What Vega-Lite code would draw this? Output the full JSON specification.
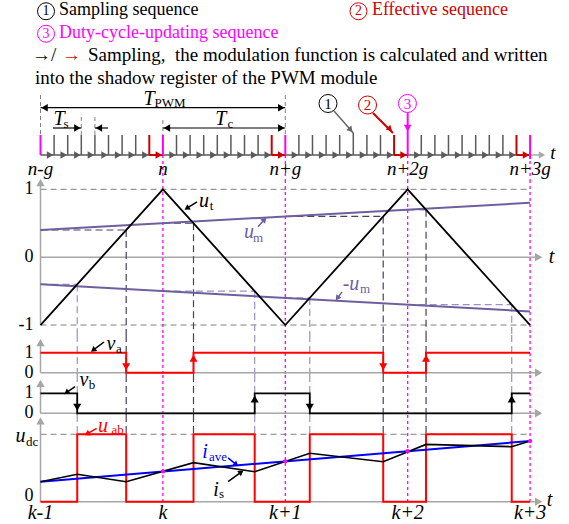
{
"$schema":"https://vega.github.io/schema/vega-lite/v6.json",
"padding":0,
"spacing":0,
"bounds":"flush",
"background":"#ffffff",
"config":{"view":{"stroke":null},"concat":{"spacing":0},"text":{"font":"'Liberation Serif', 'DejaVu Serif', serif"}},
"vconcat":[
{"width":569,"height":90,
"encoding":{"x":{"field":"t","type":"quantitative","scale":{"domain":[-0.331,4.318],"nice":false,"zero":false},"axis":null},"y":{"field":"y","type":"quantitative","scale":{"domain":[0.55,4.55],"reverse":true,"nice":false,"zero":false},"axis":null}},
"layer":[
{"data":{"values":[{"t":0.151,"y":1,"s":"Sampling sequence"}]},
 "mark":{"type":"text","font":"'Liberation Serif', 'DejaVu Serif', serif","fontSize":18,"align":"left","baseline":"middle","color":"#000000"},"encoding":{"text":{"field":"s"}}},
{"data":{"values":[{"t":-0.069,"y":3,"s":"→/"},{"t":0.388,"y":3,"s":"Sampling,\u00a0 the modulation function is calculated and written"},{"t":-0.045,"y":4.02,"s":"into the shadow register of the PWM module"}]},
 "mark":{"type":"text","font":"'Liberation Serif', 'DejaVu Serif', serif","fontSize":19,"align":"left","baseline":"middle","color":"#000000"},"encoding":{"text":{"field":"s"}}},
{"data":{"values":[{"t":2.708,"y":1,"s":"Effective sequence"}]},
 "mark":{"type":"text","font":"'Liberation Serif', 'DejaVu Serif', serif","fontSize":18,"align":"left","baseline":"middle","color":"#d00000"},"encoding":{"text":{"field":"s"}}},
{"data":{"values":[{"t":0.176,"y":3,"s":"→"}]},
 "mark":{"type":"text","font":"'Liberation Serif', 'DejaVu Serif', serif","fontSize":19,"align":"left","baseline":"middle","color":"#e00000"},"encoding":{"text":{"field":"s"}}},
{"data":{"values":[{"t":0.151,"y":2,"s":"Duty-cycle-updating sequence"}]},
 "mark":{"type":"text","font":"'Liberation Serif', 'DejaVu Serif', serif","fontSize":18,"align":"left","baseline":"middle","color":"#ff00ff"},"encoding":{"text":{"field":"s"}}},
{"data":{"values":[{"t":0.045,"y":1.05}]},
 "mark":{"type":"point","shape":"circle","filled":false,"size":289,"color":"#000000","strokeWidth":1,"opacity":1},"encoding":{}},
{"data":{"values":[{"t":2.598,"y":1.05}]},
 "mark":{"type":"point","shape":"circle","filled":false,"size":289,"color":"#d00000","strokeWidth":1,"opacity":1},"encoding":{}},
{"data":{"values":[{"t":0.045,"y":2.05}]},
 "mark":{"type":"point","shape":"circle","filled":false,"size":289,"color":"#ff00ff","strokeWidth":1,"opacity":1},"encoding":{}},
{"data":{"values":[{"t":0.045,"y":1.05,"s":"1"}]},
 "mark":{"type":"text","font":"'Liberation Serif', 'DejaVu Serif', serif","fontSize":14,"align":"center","baseline":"middle","color":"#000000"},"encoding":{"text":{"field":"s"}}},
{"data":{"values":[{"t":2.598,"y":1.05,"s":"2"}]},
 "mark":{"type":"text","font":"'Liberation Serif', 'DejaVu Serif', serif","fontSize":14,"align":"center","baseline":"middle","color":"#d00000"},"encoding":{"text":{"field":"s"}}},
{"data":{"values":[{"t":0.045,"y":2.05,"s":"3"}]},
 "mark":{"type":"text","font":"'Liberation Serif', 'DejaVu Serif', serif","fontSize":14,"align":"center","baseline":"middle","color":"#ff00ff"},"encoding":{"text":{"field":"s"}}}
]},
{"width":569,"height":90,
"encoding":{"x":{"field":"t","type":"quantitative","scale":{"domain":[-0.331,4.318],"nice":false,"zero":false},"axis":null},"y":{"field":"y","type":"quantitative","scale":{"domain":[-1.25,3.25],"nice":false,"zero":false},"axis":null}},
"layer":[
{"data":{"values":[{"t":1,"t2":1,"y":0,"y2":-1.25},{"t":2,"t2":2,"y":0,"y2":-1.25},{"t":3,"t2":3,"y":0,"y2":-1.25},{"t":4,"t2":4,"y":0,"y2":-1.25}]},
 "mark":{"type":"rule","color":"#ff00ff","strokeWidth":1.3,"strokeDash":[3,3]},"encoding":{"x2":{"field":"t2"},"y2":{"field":"y2"}}},
{"data":{"values":[{"t":0,"t2":0,"y":3.0,"y2":1},{"t":2,"t2":2,"y":3.0,"y2":1},{"t":1,"t2":1,"y":1.75,"y2":1},{"t":0.3333,"t2":0.3333,"y":1.9,"y2":1},{"t":0.4444,"t2":0.4444,"y":1.9,"y2":1}]},
 "mark":{"type":"rule","color":"#808080","strokeWidth":1,"strokeDash":[4,3]},"encoding":{"x2":{"field":"t2"},"y2":{"field":"y2"}}},
{"data":{"values":[{"t":0,"t2":4,"y":0,"y2":0},
 {"t":0.1111,"t2":0.1111,"y":0,"y2":1},{"t":0.2222,"t2":0.2222,"y":0,"y2":1},{"t":0.3333,"t2":0.3333,"y":0,"y2":1},{"t":0.4444,"t2":0.4444,"y":0,"y2":1},{"t":0.5556,"t2":0.5556,"y":0,"y2":1},{"t":0.6667,"t2":0.6667,"y":0,"y2":1},{"t":0.7778,"t2":0.7778,"y":0,"y2":1},
 {"t":1.1111,"t2":1.1111,"y":0,"y2":1},{"t":1.2222,"t2":1.2222,"y":0,"y2":1},{"t":1.3333,"t2":1.3333,"y":0,"y2":1},{"t":1.4444,"t2":1.4444,"y":0,"y2":1},{"t":1.5556,"t2":1.5556,"y":0,"y2":1},{"t":1.6667,"t2":1.6667,"y":0,"y2":1},{"t":1.7778,"t2":1.7778,"y":0,"y2":1},
 {"t":2.1111,"t2":2.1111,"y":0,"y2":1},{"t":2.2222,"t2":2.2222,"y":0,"y2":1},{"t":2.3333,"t2":2.3333,"y":0,"y2":1},{"t":2.4444,"t2":2.4444,"y":0,"y2":1},{"t":2.5556,"t2":2.5556,"y":0,"y2":1.1},{"t":2.6667,"t2":2.6667,"y":0,"y2":1},{"t":2.7778,"t2":2.7778,"y":0,"y2":1},
 {"t":3.1111,"t2":3.1111,"y":0,"y2":1},{"t":3.2222,"t2":3.2222,"y":0,"y2":1},{"t":3.3333,"t2":3.3333,"y":0,"y2":1},{"t":3.4444,"t2":3.4444,"y":0,"y2":1},{"t":3.5556,"t2":3.5556,"y":0,"y2":1},{"t":3.6667,"t2":3.6667,"y":0,"y2":1},{"t":3.7778,"t2":3.7778,"y":0,"y2":1}]},
 "mark":{"type":"rule","color":"#5a5a5a","strokeWidth":1.5},"encoding":{"x2":{"field":"t2"},"y2":{"field":"y2"}}},
{"data":{"values":[{"t":4,"t2":4.1,"y":0,"y2":0}]},
 "mark":{"type":"rule","color":"#aaaaaa","strokeWidth":1.5},"encoding":{"x2":{"field":"t2"},"y2":{"field":"y2"}}},
{"data":{"values":[{"t":0.1111,"y":0},{"t":0.2222,"y":0},{"t":0.3333,"y":0},{"t":0.4444,"y":0},{"t":0.5556,"y":0},{"t":0.6667,"y":0},{"t":0.7778,"y":0},{"t":0.8889,"y":0},
 {"t":1.1111,"y":0},{"t":1.2222,"y":0},{"t":1.3333,"y":0},{"t":1.4444,"y":0},{"t":1.5556,"y":0},{"t":1.6667,"y":0},{"t":1.7778,"y":0},{"t":1.8889,"y":0},
 {"t":2.1111,"y":0},{"t":2.2222,"y":0},{"t":2.3333,"y":0},{"t":2.4444,"y":0},{"t":2.5556,"y":0},{"t":2.6667,"y":0},{"t":2.7778,"y":0},{"t":2.8889,"y":0},
 {"t":3.1111,"y":0},{"t":3.2222,"y":0},{"t":3.3333,"y":0},{"t":3.4444,"y":0},{"t":3.5556,"y":0},{"t":3.6667,"y":0},{"t":3.7778,"y":0},{"t":3.8889,"y":0}]},
 "mark":{"type":"point","shape":"triangle-right","filled":true,"size":55,"color":"#5a5a5a","opacity":1,"xOffset":-4},"encoding":{}},
{"data":{"values":[{"t":4.13,"y":0}]},
 "mark":{"type":"point","shape":"triangle-right","filled":true,"size":55,"color":"#aaaaaa","opacity":1,"xOffset":-4},"encoding":{}},
{"data":{"values":[{"t":0.8889,"t2":0.8889,"y":1,"y2":0},{"t":0.8889,"t2":1,"y":0,"y2":0},{"t":1.8889,"t2":1.8889,"y":1,"y2":0},{"t":1.8889,"t2":2,"y":0,"y2":0},{"t":2.8889,"t2":2.8889,"y":1,"y2":0},{"t":2.8889,"t2":3,"y":0,"y2":0},{"t":3.8889,"t2":3.8889,"y":1,"y2":0},{"t":3.8889,"t2":4,"y":0,"y2":0},{"t":2.716,"t2":2.88,"y":2.1,"y2":1.1}]},
 "mark":{"type":"rule","color":"#cc0000","strokeWidth":2},"encoding":{"x2":{"field":"t2"},"y2":{"field":"y2"}}},
{"data":{"values":[{"t":1,"y":0},{"t":2,"y":0},{"t":3,"y":0},{"t":4,"y":0}]},
 "mark":{"type":"point","shape":"triangle-right","filled":true,"size":60,"color":"#cc0000","opacity":1,"xOffset":-4},"encoding":{}},
{"data":{"values":[{"t":2.856,"y":1.29}]},
 "mark":{"type":"point","shape":"triangle-up","filled":true,"size":45,"color":"#cc0000","opacity":1,"angle":134},"encoding":{}},
{"data":{"values":[{"t":0,"t2":0,"y":1,"y2":0},{"t":1,"t2":1,"y":1,"y2":0},{"t":2,"t2":2,"y":1,"y2":0},{"t":4,"t2":4,"y":1,"y2":-0.2},{"t":3,"t2":3,"y":2.12,"y2":0}]},
 "mark":{"type":"rule","color":"#ff00ff","strokeWidth":2},"encoding":{"x2":{"field":"t2"},"y2":{"field":"y2"}}},
{"data":{"values":[{"t":3,"y":1.35}]},
 "mark":{"type":"point","shape":"triangle-down","filled":true,"size":60,"color":"#ff00ff","opacity":1},"encoding":{}},
{"data":{"values":[{"t":0,"t2":2,"y":2.365,"y2":2.365},{"t":1,"t2":2,"y":1.35,"y2":1.35},{"t":0.102,"t2":0.3333,"y":1.35,"y2":1.35},{"t":0.4444,"t2":0.551,"y":1.35,"y2":1.35}]},
 "mark":{"type":"rule","color":"#000000","strokeWidth":1.2},"encoding":{"x2":{"field":"t2"},"y2":{"field":"y2"}}},
{"data":{"values":[{"t":2,"y":2.365},{"t":2,"y":1.35},{"t":0.3333,"y":1.35}]},
 "mark":{"type":"point","shape":"triangle-right","filled":true,"size":55,"color":"#000000","opacity":1,"xOffset":-4},"encoding":{}},
{"data":{"values":[{"t":0,"y":2.365},{"t":1,"y":1.35},{"t":0.4444,"y":1.35}]},
 "mark":{"type":"point","shape":"triangle-left","filled":true,"size":55,"color":"#000000","opacity":1,"xOffset":4},"encoding":{}},
{"data":{"values":[{"t":2.398,"t2":2.556,"y":2.2,"y2":1.1}]},
 "mark":{"type":"rule","color":"#666666","strokeWidth":1.5},"encoding":{"x2":{"field":"t2"},"y2":{"field":"y2"}}},
{"data":{"values":[{"t":2.534,"y":1.25}]},
 "mark":{"type":"point","shape":"triangle-up","filled":true,"size":45,"color":"#666666","opacity":1,"angle":140},"encoding":{}},
{"data":{"values":[{"t":2.349,"y":2.575}]},
 "mark":{"type":"point","shape":"circle","filled":false,"size":324,"color":"#000000","strokeWidth":1,"opacity":1},"encoding":{}},
{"data":{"values":[{"t":2.672,"y":2.5}]},
 "mark":{"type":"point","shape":"circle","filled":false,"size":324,"color":"#cc0000","strokeWidth":1,"opacity":1},"encoding":{}},
{"data":{"values":[{"t":2.998,"y":2.575}]},
 "mark":{"type":"point","shape":"circle","filled":false,"size":324,"color":"#ff00ff","strokeWidth":1,"opacity":1},"encoding":{}},
{"data":{"values":[{"t":2.349,"y":2.575,"s":"1"}]},
 "mark":{"type":"text","font":"'Liberation Serif', 'DejaVu Serif', serif","fontSize":15,"align":"center","baseline":"middle","color":"#000000"},"encoding":{"text":{"field":"s"}}},
{"data":{"values":[{"t":2.672,"y":2.5,"s":"2"}]},
 "mark":{"type":"text","font":"'Liberation Serif', 'DejaVu Serif', serif","fontSize":15,"align":"center","baseline":"middle","color":"#cc0000"},"encoding":{"text":{"field":"s"}}},
{"data":{"values":[{"t":2.998,"y":2.575,"s":"3"}]},
 "mark":{"type":"text","font":"'Liberation Serif', 'DejaVu Serif', serif","fontSize":15,"align":"center","baseline":"middle","color":"#ff00ff"},"encoding":{"text":{"field":"s"}}},
{"data":{"values":[{"t":0,"y":-0.7,"s":"n-g"},{"t":1,"y":-0.7,"s":"n"},{"t":2,"y":-0.7,"s":"n+g"},{"t":3,"y":-0.7,"s":"n+2g"},{"t":4,"y":-0.7,"s":"n+3g"},{"t":4.187,"y":0.1,"s":"t"}]},
 "mark":{"type":"text","font":"'Liberation Serif', 'DejaVu Serif', serif","fontSize":19,"fontStyle":"italic","align":"center","baseline":"middle","color":"#000000"},"encoding":{"text":{"field":"s"}}},
{"data":{"values":[{"t":0.886,"y":2.825,"s":"T"},{"t":0.151,"y":1.8,"s":"T"},{"t":1.474,"y":1.8,"s":"T"}]},
 "mark":{"type":"text","font":"'Liberation Serif', 'DejaVu Serif', serif","fontSize":20,"fontStyle":"italic","align":"center","baseline":"middle","color":"#000000"},"encoding":{"text":{"field":"s"}}},
{"data":{"values":[{"t":1.058,"y":2.625,"s":"PWM"},{"t":0.208,"y":1.575,"s":"s"},{"t":1.552,"y":1.575,"s":"c"}]},
 "mark":{"type":"text","font":"'Liberation Serif', 'DejaVu Serif', serif","fontSize":13,"align":"center","baseline":"middle","color":"#000000"},"encoding":{"text":{"field":"s"}}}
]},
{"width":569,"height":155,
"encoding":{"x":{"field":"t","type":"quantitative","scale":{"domain":[-0.331,4.318],"nice":false,"zero":false},"axis":null},"y":{"field":"y","type":"quantitative","scale":{"domain":[-1.147,1.137],"nice":false,"zero":false},"axis":null}},
"layer":[
{"data":{"values":[{"t":1,"t2":1,"y":1.137,"y2":-1.147},{"t":2,"t2":2,"y":1.137,"y2":-1.147},{"t":3,"t2":3,"y":1.137,"y2":-1.147},{"t":4,"t2":4,"y":1.137,"y2":-1.147}]},
 "mark":{"type":"rule","color":"#ff00ff","strokeWidth":1.3,"strokeDash":[3,3]},"encoding":{"x2":{"field":"t2"},"y2":{"field":"y2"}}},
{"data":{"values":[{"t":0,"t2":4,"y":1,"y2":1},{"t":0,"t2":4,"y":-1,"y2":-1}]},
 "mark":{"type":"rule","color":"#808080","strokeWidth":1,"strokeDash":[6,4]},"encoding":{"x2":{"field":"t2"},"y2":{"field":"y2"}}},
{"data":{"values":[{"t":0,"t2":0,"y":-1,"y2":1.08},{"t":0,"t2":4.05,"y":0,"y2":0}]},
 "mark":{"type":"rule","color":"#a6a6a6","strokeWidth":1.5},"encoding":{"x2":{"field":"t2"},"y2":{"field":"y2"}}},
{"data":{"values":[{"t":0,"y":1.1}]},
 "mark":{"type":"point","shape":"triangle-up","filled":true,"size":70,"color":"#a6a6a6","opacity":1},"encoding":{}},
{"data":{"values":[{"t":4.07,"y":0}]},
 "mark":{"type":"point","shape":"triangle-right","filled":true,"size":70,"color":"#a6a6a6","opacity":1},"encoding":{}},
{"data":{"values":[{"t":0.7,"t2":0.7,"y":0.4,"y2":-1.147},{"t":1.25,"t2":1.25,"y":0.5,"y2":-1.147},{"t":2.8,"t2":2.8,"y":0.6,"y2":-1.147},{"t":3.15,"t2":3.15,"y":0.7,"y2":-1.147},{"t":0,"t2":0.7,"y":0.4,"y2":0.4},{"t":1,"t2":1.25,"y":0.5,"y2":0.5},{"t":2,"t2":2.8,"y":0.6,"y2":0.6},{"t":3,"t2":3.15,"y":0.7,"y2":0.7}]},
 "mark":{"type":"rule","color":"#4a4062","strokeWidth":1.2,"strokeDash":[7,4]},"encoding":{"x2":{"field":"t2"},"y2":{"field":"y2"}}},
{"data":{"values":[{"t":0.3,"t2":0.3,"y":-0.4,"y2":-1.147},{"t":1.75,"t2":1.75,"y":-0.5,"y2":-1.147},{"t":2.2,"t2":2.2,"y":-0.6,"y2":-1.147},{"t":3.85,"t2":3.85,"y":-0.7,"y2":-1.147},{"t":0,"t2":0.3,"y":-0.4,"y2":-0.4},{"t":1,"t2":1.75,"y":-0.5,"y2":-0.5},{"t":2,"t2":2.2,"y":-0.6,"y2":-0.6},{"t":3,"t2":3.85,"y":-0.7,"y2":-0.7}]},
 "mark":{"type":"rule","color":"#9d90c4","strokeWidth":1.2,"strokeDash":[7,4]},"encoding":{"x2":{"field":"t2"},"y2":{"field":"y2"}}},
{"data":{"values":[{"t":0,"t2":4,"y":0.4,"y2":0.8},{"t":0,"t2":4,"y":-0.4,"y2":-0.8}]},
 "mark":{"type":"rule","color":"#6e5f9e","strokeWidth":2},"encoding":{"x2":{"field":"t2"},"y2":{"field":"y2"}}},
{"data":{"values":[{"t":0,"y":-1},{"t":1,"y":1},{"t":2,"y":-1},{"t":3,"y":1},{"t":4,"y":-1}]},
 "mark":{"type":"line","color":"#000000","strokeWidth":1.8},"encoding":{}},
{"data":{"values":[{"t":-0.057,"y":1,"s":"1"},{"t":-0.057,"y":0,"s":"0"},{"t":-0.057,"y":-1,"s":"-1"}]},
 "mark":{"type":"text","font":"'Liberation Serif', 'DejaVu Serif', serif","fontSize":18,"align":"right","baseline":"middle","color":"#000000"},"encoding":{"text":{"field":"s"}}},
{"data":{"values":[{"t":1.336,"y":0.83,"s":"u"},{"t":4.175,"y":0,"s":"t"}]},
 "mark":{"type":"text","font":"'Liberation Serif', 'DejaVu Serif', serif","fontSize":20,"fontStyle":"italic","align":"center","baseline":"middle","color":"#000000"},"encoding":{"text":{"field":"s"}}},
{"data":{"values":[{"t":1.397,"y":0.756,"s":"t"}]},
 "mark":{"type":"text","font":"'Liberation Serif', 'DejaVu Serif', serif","fontSize":13,"align":"center","baseline":"middle","color":"#000000"},"encoding":{"text":{"field":"s"}}},
{"data":{"values":[{"t":1.703,"y":0.373,"s":"u"},{"t":2.537,"y":-0.394,"s":"-u"}]},
 "mark":{"type":"text","font":"'Liberation Serif', 'DejaVu Serif', serif","fontSize":20,"fontStyle":"italic","align":"center","baseline":"middle","color":"#6e5f9e"},"encoding":{"text":{"field":"s"}}},
{"data":{"values":[{"t":1.777,"y":0.285,"s":"m"},{"t":2.651,"y":-0.467,"s":"m"}]},
 "mark":{"type":"text","font":"'Liberation Serif', 'DejaVu Serif', serif","fontSize":13,"align":"center","baseline":"middle","color":"#6e5f9e"},"encoding":{"text":{"field":"s"}}},
{"data":{"values":[{"t":1.279,"t2":1.2,"y":0.815,"y2":0.725}]},
 "mark":{"type":"rule","color":"#000000","strokeWidth":1.5},"encoding":{"x2":{"field":"t2"},"y2":{"field":"y2"}}},
{"data":{"values":[{"t":1.195,"y":0.72}]},
 "mark":{"type":"point","shape":"triangle-up","filled":true,"size":40,"color":"#000000","opacity":1,"angle":237},"encoding":{}},
{"data":{"values":[{"t":1.777,"t2":1.83,"y":0.447,"y2":0.555},{"t":2.463,"t2":2.425,"y":-0.511,"y2":-0.605}]},
 "mark":{"type":"rule","color":"#6e5f9e","strokeWidth":1.5},"encoding":{"x2":{"field":"t2"},"y2":{"field":"y2"}}},
{"data":{"values":[{"t":1.83,"y":0.555}]},
 "mark":{"type":"point","shape":"triangle-up","filled":true,"size":40,"color":"#6e5f9e","opacity":1,"angle":41},"encoding":{}},
{"data":{"values":[{"t":2.425,"y":-0.605}]},
 "mark":{"type":"point","shape":"triangle-up","filled":true,"size":40,"color":"#6e5f9e","opacity":1,"angle":215},"encoding":{}}
]},
{"width":569,"height":40,
"encoding":{"x":{"field":"t","type":"quantitative","scale":{"domain":[-0.331,4.318],"nice":false,"zero":false},"axis":null},"y":{"field":"y","type":"quantitative","scale":{"domain":[-0.115,1.885],"nice":false,"zero":false},"axis":null}},
"layer":[
{"data":{"values":[{"t":1,"t2":1,"y":1.885,"y2":-0.115},{"t":2,"t2":2,"y":1.885,"y2":-0.115},{"t":3,"t2":3,"y":1.885,"y2":-0.115},{"t":4,"t2":4,"y":1.885,"y2":-0.115}]},
 "mark":{"type":"rule","color":"#ff00ff","strokeWidth":1.3,"strokeDash":[3,3]},"encoding":{"x2":{"field":"t2"},"y2":{"field":"y2"}}},
{"data":{"values":[{"t":0.7,"t2":0.7,"y":1.885,"y2":-0.115},{"t":1.25,"t2":1.25,"y":1.885,"y2":-0.115},{"t":2.8,"t2":2.8,"y":1.885,"y2":-0.115},{"t":3.15,"t2":3.15,"y":1.885,"y2":-0.115}]},
 "mark":{"type":"rule","color":"#4a4062","strokeWidth":1.2,"strokeDash":[7,4]},"encoding":{"x2":{"field":"t2"},"y2":{"field":"y2"}}},
{"data":{"values":[{"t":0.3,"t2":0.3,"y":1.885,"y2":-0.115},{"t":1.75,"t2":1.75,"y":1.885,"y2":-0.115},{"t":2.2,"t2":2.2,"y":1.885,"y2":-0.115},{"t":3.85,"t2":3.85,"y":1.885,"y2":-0.115}]},
 "mark":{"type":"rule","color":"#9d90c4","strokeWidth":1.2,"strokeDash":[7,4]},"encoding":{"x2":{"field":"t2"},"y2":{"field":"y2"}}},
{"data":{"values":[{"t":0,"t2":0,"y":0,"y2":1.45},{"t":0,"t2":4.05,"y":0,"y2":0}]},
 "mark":{"type":"rule","color":"#a6a6a6","strokeWidth":1.5},"encoding":{"x2":{"field":"t2"},"y2":{"field":"y2"}}},
{"data":{"values":[{"t":0,"y":1.5}]},
 "mark":{"type":"point","shape":"triangle-up","filled":true,"size":70,"color":"#a6a6a6","opacity":1},"encoding":{}},
{"data":{"values":[{"t":4.07,"y":0}]},
 "mark":{"type":"point","shape":"triangle-right","filled":true,"size":70,"color":"#a6a6a6","opacity":1},"encoding":{}},
{"data":{"values":[{"t":0,"y":1},{"t":0.7,"y":0},{"t":1.25,"y":1},{"t":2.8,"y":0},{"t":3.15,"y":1},{"t":4,"y":1}]},
 "mark":{"type":"line","interpolate":"step-after","color":"#ff0000","strokeWidth":2},"encoding":{}},
{"data":{"values":[{"t":0.7,"y":0.3},{"t":2.8,"y":0.3}]},
 "mark":{"type":"point","shape":"triangle-down","filled":true,"size":65,"color":"#ff0000","opacity":1},"encoding":{}},
{"data":{"values":[{"t":1.25,"y":0.72},{"t":3.15,"y":0.72}]},
 "mark":{"type":"point","shape":"triangle-up","filled":true,"size":65,"color":"#ff0000","opacity":1},"encoding":{}},
{"data":{"values":[{"t":-0.057,"y":1,"s":"1"},{"t":-0.057,"y":0,"s":"0"}]},
 "mark":{"type":"text","font":"'Liberation Serif', 'DejaVu Serif', serif","fontSize":18,"align":"right","baseline":"middle","color":"#000000"},"encoding":{"text":{"field":"s"}}},
{"data":{"values":[{"t":0.576,"y":1.45,"s":"v"}]},
 "mark":{"type":"text","font":"'Liberation Serif', 'DejaVu Serif', serif","fontSize":20,"fontStyle":"italic","align":"center","baseline":"middle","color":"#000000"},"encoding":{"text":{"field":"s"}}},
{"data":{"values":[{"t":0.64,"y":1.2,"s":"a"}]},
 "mark":{"type":"text","font":"'Liberation Serif', 'DejaVu Serif', serif","fontSize":13,"align":"center","baseline":"middle","color":"#000000"},"encoding":{"text":{"field":"s"}}},
{"data":{"values":[{"t":0.519,"t2":0.43,"y":1.535,"y2":1.13}]},
 "mark":{"type":"rule","color":"#000000","strokeWidth":1.5},"encoding":{"x2":{"field":"t2"},"y2":{"field":"y2"}}},
{"data":{"values":[{"t":0.43,"y":1.13}]},
 "mark":{"type":"point","shape":"triangle-up","filled":true,"size":40,"color":"#000000","opacity":1,"angle":233},"encoding":{}}
]},
{"width":569,"height":40,
"encoding":{"x":{"field":"t","type":"quantitative","scale":{"domain":[-0.331,4.318],"nice":false,"zero":false},"axis":null},"y":{"field":"y","type":"quantitative","scale":{"domain":[-0.085,1.915],"nice":false,"zero":false},"axis":null}},
"layer":[
{"data":{"values":[{"t":1,"t2":1,"y":1.915,"y2":-0.085},{"t":2,"t2":2,"y":1.915,"y2":-0.085},{"t":3,"t2":3,"y":1.915,"y2":-0.085},{"t":4,"t2":4,"y":1.915,"y2":-0.085}]},
 "mark":{"type":"rule","color":"#ff00ff","strokeWidth":1.3,"strokeDash":[3,3]},"encoding":{"x2":{"field":"t2"},"y2":{"field":"y2"}}},
{"data":{"values":[{"t":0.7,"t2":0.7,"y":1.915,"y2":-0.085},{"t":1.25,"t2":1.25,"y":1.915,"y2":-0.085},{"t":2.8,"t2":2.8,"y":1.915,"y2":-0.085},{"t":3.15,"t2":3.15,"y":1.915,"y2":-0.085}]},
 "mark":{"type":"rule","color":"#4a4062","strokeWidth":1.2,"strokeDash":[7,4]},"encoding":{"x2":{"field":"t2"},"y2":{"field":"y2"}}},
{"data":{"values":[{"t":0.3,"t2":0.3,"y":1.915,"y2":-0.085},{"t":1.75,"t2":1.75,"y":1.915,"y2":-0.085},{"t":2.2,"t2":2.2,"y":1.915,"y2":-0.085},{"t":3.85,"t2":3.85,"y":1.915,"y2":-0.085}]},
 "mark":{"type":"rule","color":"#9d90c4","strokeWidth":1.2,"strokeDash":[7,4]},"encoding":{"x2":{"field":"t2"},"y2":{"field":"y2"}}},
{"data":{"values":[{"t":0,"t2":0,"y":0,"y2":1.45},{"t":0,"t2":4.05,"y":0,"y2":0}]},
 "mark":{"type":"rule","color":"#a6a6a6","strokeWidth":1.5},"encoding":{"x2":{"field":"t2"},"y2":{"field":"y2"}}},
{"data":{"values":[{"t":0,"y":1.5}]},
 "mark":{"type":"point","shape":"triangle-up","filled":true,"size":70,"color":"#a6a6a6","opacity":1},"encoding":{}},
{"data":{"values":[{"t":4.07,"y":0}]},
 "mark":{"type":"point","shape":"triangle-right","filled":true,"size":70,"color":"#a6a6a6","opacity":1},"encoding":{}},
{"data":{"values":[{"t":0,"y":1},{"t":0.3,"y":0},{"t":1.75,"y":1},{"t":2.2,"y":0},{"t":3.85,"y":1},{"t":4,"y":1}]},
 "mark":{"type":"line","interpolate":"step-after","color":"#000000","strokeWidth":1.8},"encoding":{}},
{"data":{"values":[{"t":0.3,"y":0.3},{"t":2.2,"y":0.3}]},
 "mark":{"type":"point","shape":"triangle-down","filled":true,"size":65,"color":"#000000","opacity":1},"encoding":{}},
{"data":{"values":[{"t":1.75,"y":0.72},{"t":3.85,"y":0.72}]},
 "mark":{"type":"point","shape":"triangle-up","filled":true,"size":65,"color":"#000000","opacity":1},"encoding":{}},
{"data":{"values":[{"t":-0.057,"y":1,"s":"1"},{"t":-0.057,"y":0,"s":"0"}]},
 "mark":{"type":"text","font":"'Liberation Serif', 'DejaVu Serif', serif","fontSize":18,"align":"right","baseline":"middle","color":"#000000"},"encoding":{"text":{"field":"s"}}},
{"data":{"values":[{"t":0.355,"y":1.665,"s":"v"}]},
 "mark":{"type":"text","font":"'Liberation Serif', 'DejaVu Serif', serif","fontSize":20,"fontStyle":"italic","align":"center","baseline":"middle","color":"#000000"},"encoding":{"text":{"field":"s"}}},
{"data":{"values":[{"t":0.42,"y":1.42,"s":"b"}]},
 "mark":{"type":"text","font":"'Liberation Serif', 'DejaVu Serif', serif","fontSize":13,"align":"center","baseline":"middle","color":"#000000"},"encoding":{"text":{"field":"s"}}},
{"data":{"values":[{"t":0.282,"t2":0.212,"y":1.33,"y2":1.03}]},
 "mark":{"type":"rule","color":"#000000","strokeWidth":1.5},"encoding":{"x2":{"field":"t2"},"y2":{"field":"y2"}}},
{"data":{"values":[{"t":0.212,"y":1.03}]},
 "mark":{"type":"point","shape":"triangle-up","filled":true,"size":40,"color":"#000000","opacity":1,"angle":233},"encoding":{}}
]},
{"width":569,"height":109,
"encoding":{"x":{"field":"t","type":"quantitative","scale":{"domain":[-0.331,4.318],"nice":false,"zero":false},"axis":null},"y":{"field":"y","type":"quantitative","scale":{"domain":[-0.331,1.286],"nice":false,"zero":false},"axis":null}},
"layer":[
{"data":{"values":[{"t":1,"t2":1,"y":1.286,"y2":0},{"t":2,"t2":2,"y":1.286,"y2":0},{"t":3,"t2":3,"y":1.286,"y2":0},{"t":4,"t2":4,"y":1.286,"y2":0}]},
 "mark":{"type":"rule","color":"#ff00ff","strokeWidth":1.3,"strokeDash":[3,3]},"encoding":{"x2":{"field":"t2"},"y2":{"field":"y2"}}},
{"data":{"values":[{"t":0.7,"t2":0.7,"y":1.286,"y2":1},{"t":1.25,"t2":1.25,"y":1.286,"y2":1},{"t":2.8,"t2":2.8,"y":1.286,"y2":1},{"t":3.15,"t2":3.15,"y":1.286,"y2":1}]},
 "mark":{"type":"rule","color":"#4a4062","strokeWidth":1.2,"strokeDash":[7,4]},"encoding":{"x2":{"field":"t2"},"y2":{"field":"y2"}}},
{"data":{"values":[{"t":0.3,"t2":0.3,"y":1.286,"y2":1},{"t":1.75,"t2":1.75,"y":1.286,"y2":1},{"t":2.2,"t2":2.2,"y":1.286,"y2":1},{"t":3.85,"t2":3.85,"y":1.286,"y2":1}]},
 "mark":{"type":"rule","color":"#9d90c4","strokeWidth":1.2,"strokeDash":[7,4]},"encoding":{"x2":{"field":"t2"},"y2":{"field":"y2"}}},
{"data":{"values":[{"t":0,"t2":4,"y":1,"y2":1}]},
 "mark":{"type":"rule","color":"#808080","strokeWidth":1,"strokeDash":[6,4]},"encoding":{"x2":{"field":"t2"},"y2":{"field":"y2"}}},
{"data":{"values":[{"t":0,"t2":0,"y":0,"y2":1.17},{"t":0,"t2":4.05,"y":0,"y2":0}]},
 "mark":{"type":"rule","color":"#a6a6a6","strokeWidth":1.5},"encoding":{"x2":{"field":"t2"},"y2":{"field":"y2"}}},
{"data":{"values":[{"t":0,"y":1.2}]},
 "mark":{"type":"point","shape":"triangle-up","filled":true,"size":70,"color":"#a6a6a6","opacity":1},"encoding":{}},
{"data":{"values":[{"t":4.07,"y":0}]},
 "mark":{"type":"point","shape":"triangle-right","filled":true,"size":70,"color":"#a6a6a6","opacity":1},"encoding":{}},
{"data":{"values":[{"t":0,"y":0},{"t":0.3,"y":1},{"t":0.7,"y":0},{"t":1.25,"y":1},{"t":1.75,"y":0},{"t":2.2,"y":1},{"t":2.8,"y":0},{"t":3.15,"y":1},{"t":3.85,"y":0},{"t":4,"y":0}]},
 "mark":{"type":"line","interpolate":"step-after","color":"#ff0000","strokeWidth":2},"encoding":{}},
{"data":{"values":[{"t":0,"t2":4,"y":0.297,"y2":0.9}]},
 "mark":{"type":"rule","color":"#0000ff","strokeWidth":2},"encoding":{"x2":{"field":"t2"},"y2":{"field":"y2"}}},
{"data":{"values":[{"t":0,"y":0.297},{"t":0.3,"y":0.406},{"t":0.7,"y":0.297},{"t":1.25,"y":0.579},{"t":1.75,"y":0.445},{"t":2.2,"y":0.718},{"t":2.8,"y":0.593},{"t":3.15,"y":0.85},{"t":3.85,"y":0.816},{"t":4,"y":0.9}]},
 "mark":{"type":"line","color":"#000000","strokeWidth":1.6},"encoding":{}},
{"data":{"values":[{"t":1,"y":0.448},{"t":2,"y":0.599},{"t":3,"y":0.749},{"t":4,"y":0.9}]},
 "mark":{"type":"point","shape":"circle","filled":true,"size":18,"color":"#ff00ff","opacity":1},"encoding":{}},
{"data":{"values":[{"t":-0.057,"y":0.09,"s":"0"}]},
 "mark":{"type":"text","font":"'Liberation Serif', 'DejaVu Serif', serif","fontSize":18,"align":"right","baseline":"middle","color":"#000000"},"encoding":{"text":{"field":"s"}}},
{"data":{"values":[{"t":-0.163,"y":0.98,"s":"u"},{"t":1.434,"y":0.174,"s":"i"},{"t":0,"y":-0.175,"s":"k-1"},{"t":1,"y":-0.175,"s":"k"},{"t":2,"y":-0.175,"s":"k+1"},{"t":3,"y":-0.175,"s":"k+2"},{"t":4,"y":-0.175,"s":"k+3"},{"t":4.158,"y":0.03,"s":"t"}]},
 "mark":{"type":"text","font":"'Liberation Serif', 'DejaVu Serif', serif","fontSize":20,"fontStyle":"italic","align":"center","baseline":"middle","color":"#000000"},"encoding":{"text":{"field":"s"}}},
{"data":{"values":[{"t":-0.069,"y":0.89,"s":"dc"},{"t":1.478,"y":0.11,"s":"s"}]},
 "mark":{"type":"text","font":"'Liberation Serif', 'DejaVu Serif', serif","fontSize":13,"align":"center","baseline":"middle","color":"#000000"},"encoding":{"text":{"field":"s"}}},
{"data":{"values":[{"t":0.511,"y":1.13,"s":"u"}]},
 "mark":{"type":"text","font":"'Liberation Serif', 'DejaVu Serif', serif","fontSize":20,"fontStyle":"italic","align":"center","baseline":"middle","color":"#ff0000"},"encoding":{"text":{"field":"s"}}},
{"data":{"values":[{"t":0.63,"y":1.07,"s":"ab"}]},
 "mark":{"type":"text","font":"'Liberation Serif', 'DejaVu Serif', serif","fontSize":13,"align":"center","baseline":"middle","color":"#ff0000"},"encoding":{"text":{"field":"s"}}},
{"data":{"values":[{"t":1.344,"y":0.737,"s":"i"}]},
 "mark":{"type":"text","font":"'Liberation Serif', 'DejaVu Serif', serif","fontSize":20,"fontStyle":"italic","align":"center","baseline":"middle","color":"#0000ff"},"encoding":{"text":{"field":"s"}}},
{"data":{"values":[{"t":1.45,"y":0.67,"s":"ave"}]},
 "mark":{"type":"text","font":"'Liberation Serif', 'DejaVu Serif', serif","fontSize":13,"align":"center","baseline":"middle","color":"#0000ff"},"encoding":{"text":{"field":"s"}}},
{"data":{"values":[{"t":0.459,"t2":0.38,"y":1.089,"y2":1.005}]},
 "mark":{"type":"rule","color":"#ff0000","strokeWidth":1.5},"encoding":{"x2":{"field":"t2"},"y2":{"field":"y2"}}},
{"data":{"values":[{"t":0.38,"y":1.005}]},
 "mark":{"type":"point","shape":"triangle-up","filled":true,"size":40,"color":"#ff0000","opacity":1,"angle":241},"encoding":{}},
{"data":{"values":[{"t":1.532,"t2":1.6,"y":0.649,"y2":0.55}]},
 "mark":{"type":"rule","color":"#0000ff","strokeWidth":1.5},"encoding":{"x2":{"field":"t2"},"y2":{"field":"y2"}}},
{"data":{"values":[{"t":1.6,"y":0.55}]},
 "mark":{"type":"point","shape":"triangle-up","filled":true,"size":40,"color":"#0000ff","opacity":1,"angle":128},"encoding":{}},
{"data":{"values":[{"t":1.532,"t2":1.64,"y":0.297,"y2":0.44}]},
 "mark":{"type":"rule","color":"#000000","strokeWidth":1.5},"encoding":{"x2":{"field":"t2"},"y2":{"field":"y2"}}},
{"data":{"values":[{"t":1.64,"y":0.44}]},
 "mark":{"type":"point","shape":"triangle-up","filled":true,"size":40,"color":"#000000","opacity":1,"angle":54},"encoding":{}}
]}
]
}
